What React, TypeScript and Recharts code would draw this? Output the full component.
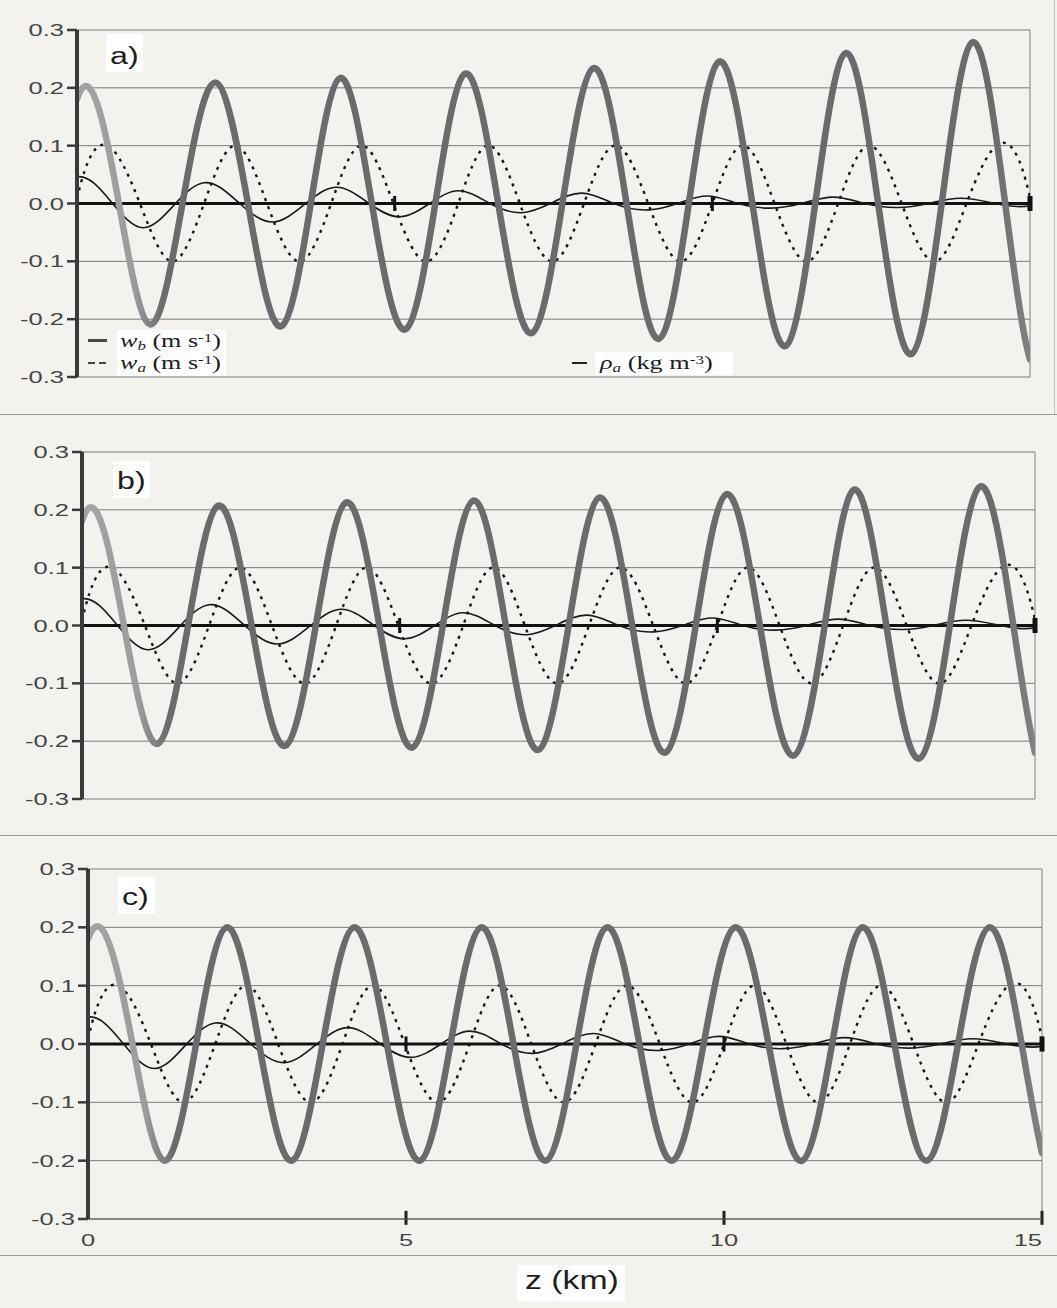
import React from "react";
import { LineChart, Line, XAxis, YAxis, CartesianGrid, ReferenceLine } from "recharts";

// ---------- data (z in km, value) ----------
const yTicks = [-0.3, -0.2, -0.1, 0, 0.1, 0.2, 0.3];
const xTicks = [0, 5, 10, 15];
const zeroLineTicks = [5, 10, 15];

// w_a (dotted) — same in every panel
const waCurve: [number, number][] = [
  [0, 0.008], [0.48, 0.1], [0.99, 0], [1.5, -0.1], [2.0, 0], [2.48, 0.1], [2.99, 0], [3.52, -0.1],
  [4.0, 0], [4.46, 0.1], [4.98, 0], [5.52, -0.1], [6.0, 0], [6.45, 0.1], [6.97, 0], [7.5, -0.1],
  [7.98, 0], [8.45, 0.1], [8.99, 0], [9.52, -0.1], [10.0, 0], [10.46, 0.1], [10.98, 0], [11.5, -0.1],
  [11.98, 0], [12.45, 0.1], [12.98, 0], [13.52, -0.1], [14.0, 0], [14.47, 0.1], [15, 0.01],
];

// rho_a (thin black) — same in every panel
const rhoCurve: [number, number][] = [
  [0, 0.046], [0.56, 0], [1.04, -0.042], [1.55, 0], [2.0, 0.036], [2.56, 0], [3.08, -0.032], [3.6, 0],
  [4.07, 0.028], [4.6, 0], [5.08, -0.023], [5.55, 0], [6.0, 0.022], [6.5, 0], [7.0, -0.016], [7.45, 0],
  [7.95, 0.018], [8.45, 0], [9.0, -0.011], [9.45, 0], [9.92, 0.013], [10.4, 0], [10.92, -0.008], [11.4, 0],
  [11.9, 0.011], [12.4, 0], [12.92, -0.007], [13.4, 0], [13.9, 0.009], [14.45, 0], [15, -0.004],
];

// w_b (thick gray), panel a
const wbA: [number, number][] = [
  [0, 0.18], [0.17, 0.202], [0.66, 0], [1.15, -0.209], [1.66, 0], [2.17, 0.209], [2.69, 0], [3.22, -0.212],
  [3.68, 0], [4.14, 0.217], [4.64, 0], [5.18, -0.217], [5.64, 0], [6.1, 0.224], [6.63, 0], [7.16, -0.224],
  [7.64, 0], [8.13, 0.234], [8.65, 0], [9.16, -0.234], [9.63, 0], [10.1, 0.245], [10.63, 0], [11.16, -0.246],
  [11.62, 0], [12.1, 0.26], [12.61, 0], [13.14, -0.26], [13.61, 0], [14.1, 0.279], [14.61, 0], [15, -0.27],
];

// w_b, panel b
const wbB: [number, number][] = [
  [0, 0.18], [0.12, 0.204], [0.66, 0], [1.2, -0.204], [1.67, 0], [2.14, 0.207], [2.67, 0], [3.2, -0.208],
  [3.68, 0], [4.16, 0.213], [4.68, 0], [5.2, -0.211], [5.68, 0], [6.16, 0.216], [6.67, 0], [7.18, -0.215],
  [7.66, 0], [8.14, 0.221], [8.66, 0], [9.18, -0.22], [9.66, 0], [10.14, 0.227], [10.67, 0], [11.2, -0.225],
  [11.69, 0], [12.14, 0.234], [12.66, 0], [13.18, -0.23], [13.66, 0], [14.13, 0.24], [14.66, 0], [15, -0.22],
];

// w_b, panel c
const wbC: [number, number][] = [
  [0, 0.18], [0.19, 0.2], [0.7, 0], [1.21, -0.2], [1.7, 0], [2.18, 0.2], [2.69, 0], [3.2, -0.2],
  [3.69, 0], [4.18, 0.2], [4.7, 0], [5.22, -0.2], [5.7, 0], [6.18, 0.2], [6.69, 0], [7.2, -0.2],
  [7.68, 0], [8.16, 0.2], [8.67, 0], [9.18, -0.2], [9.68, 0], [10.17, 0.2], [10.7, 0], [11.23, -0.2],
  [11.7, 0], [12.17, 0.2], [12.68, 0], [13.19, -0.2], [13.68, 0], [14.17, 0.2], [14.68, 0], [15, -0.187],
];

const toPts = (arr: [number, number][]) => arr.map(([z, v]) => ({ z, v }));

// Smooth curve factory for Recharts' `type` prop: cubic spline parametrised by x
// (not-a-knot end conditions) drawn as bezier segments through the scaled points.
const splineX = (context: any) => {
  let xs: number[] = [];
  let ys: number[] = [];
  return {
    areaStart() {},
    areaEnd() {},
    lineStart() {
      xs = [];
      ys = [];
    },
    point(x: number, y: number) {
      xs.push(+x);
      ys.push(+y);
    },
    lineEnd() {
      const n = xs.length;
      if (!n) return;
      context.moveTo(xs[0], ys[0]);
      if (n < 4) {
        for (let i = 1; i < n; i++) context.lineTo(xs[i], ys[i]);
        return;
      }
      const h: number[] = [];
      const s: number[] = [];
      for (let i = 0; i < n - 1; i++) {
        h[i] = xs[i + 1] - xs[i] || 1e-6;
        s[i] = (ys[i + 1] - ys[i]) / h[i];
      }
      const A: number[][] = [];
      const b: number[] = [];
      for (let i = 0; i < n; i++) {
        A.push(new Array(n).fill(0));
        b.push(0);
      }
      A[0][0] = h[1];
      A[0][1] = -(h[0] + h[1]);
      A[0][2] = h[0];
      for (let i = 1; i < n - 1; i++) {
        A[i][i - 1] = h[i - 1];
        A[i][i] = 2 * (h[i - 1] + h[i]);
        A[i][i + 1] = h[i];
        b[i] = 6 * (s[i] - s[i - 1]);
      }
      A[n - 1][n - 3] = h[n - 2];
      A[n - 1][n - 2] = -(h[n - 3] + h[n - 2]);
      A[n - 1][n - 1] = h[n - 3];
      // Gaussian elimination with partial pivoting
      for (let c = 0; c < n; c++) {
        let p = c;
        for (let r = c + 1; r < n; r++) if (Math.abs(A[r][c]) > Math.abs(A[p][c])) p = r;
        [A[c], A[p]] = [A[p], A[c]];
        [b[c], b[p]] = [b[p], b[c]];
        const piv = A[c][c] || 1e-12;
        for (let r = c + 1; r < n; r++) {
          const f = A[r][c] / piv;
          if (!f) continue;
          for (let k = c; k < n; k++) A[r][k] -= f * A[c][k];
          b[r] -= f * b[c];
        }
      }
      const M: number[] = new Array(n).fill(0);
      for (let r = n - 1; r >= 0; r--) {
        let acc = b[r];
        for (let k = r + 1; k < n; k++) acc -= A[r][k] * M[k];
        M[r] = acc / (A[r][r] || 1e-12);
      }
      const d: number[] = [];
      for (let i = 0; i < n - 1; i++) d[i] = s[i] - (h[i] * (2 * M[i] + M[i + 1])) / 6;
      d[n - 1] = s[n - 2] + (h[n - 2] * (M[n - 2] + 2 * M[n - 1])) / 6;
      for (let i = 0; i < n - 1; i++) {
        context.bezierCurveTo(
          xs[i] + h[i] / 3,
          ys[i] + (d[i] * h[i]) / 3,
          xs[i + 1] - h[i] / 3,
          ys[i + 1] - (d[i + 1] * h[i]) / 3,
          xs[i + 1],
          ys[i + 1]
        );
      }
    },
  };
};

const SANS = "'Liberation Sans', Arial, Helvetica, sans-serif";
const SERIF = "'Liberation Serif', 'Times New Roman', serif";
const PAPER = "#f3f2ee";

const YTick = (props: any) => {
  const { x, y, payload } = props;
  return (
    <g transform={`translate(${x},${y})`}>
      <text x={0} y={0} dy="0.36em" textAnchor="end" transform="scale(1.5,1)" fill="#454545" fontSize={17} fontFamily={SANS}>
        {Number(payload.value).toFixed(1)}
      </text>
    </g>
  );
};

const XTick = (props: any) => {
  const { x, y, payload } = props;
  const anchor = payload.value === 15 ? "end" : "middle";
  return (
    <g transform={`translate(${x},${y})`}>
      <text x={0} y={0} dy="0.71em" textAnchor={anchor} transform="scale(1.5,1)" fill="#454545" fontSize={17} fontFamily={SANS}>
        {payload.value}
      </text>
    </g>
  );
};

type PanelProps = {
  wb: [number, number][];
  top: number;
  height: number;
  margin: { top: number; right: number; bottom: number; left: number };
  yWidth: number;
  gradId: string;
  showX?: boolean;
};

function Panel({ wb, top, height, margin, yWidth, gradId, showX }: PanelProps) {
  return (
    <div style={{ position: "absolute", left: 0, top }}>
      <LineChart width={1057} height={height} margin={margin}>
        <defs>
          <linearGradient id={gradId} x1="0" y1="0" x2="1" y2="0">
            <stop offset="0%" stopColor="#a4a4a4" />
            <stop offset="6%" stopColor="#9c9c9c" />
            <stop offset="9%" stopColor="#6b6b6b" />
            <stop offset="96%" stopColor="#6b6b6b" />
            <stop offset="100%" stopColor="#828282" />
          </linearGradient>
        </defs>
        <CartesianGrid vertical={false} stroke="#7a7a7a" strokeWidth={1} />
        <XAxis
          dataKey="z"
          type="number"
          domain={[0, 15]}
          ticks={xTicks}
          allowDataOverflow
          hide={!showX}
          height={showX ? 40 : 0}
          axisLine={{ stroke: "#555", strokeWidth: 1 }}
          tickLine={false}
          tickSize={0}
          tickMargin={15}
          tick={<XTick />}
          interval={0}
        />
        <YAxis
          type="number"
          domain={[-0.3, 0.3]}
          ticks={yTicks}
          width={yWidth}
          interval={0}
          axisLine={{ stroke: "#3a3a3a", strokeWidth: 4 }}
          tickLine={{ stroke: "#3a3a3a", strokeWidth: 2.5 }}
          tickSize={10}
          tickMargin={3}
          tick={<YTick />}
        />
        <ReferenceLine x={15} stroke="#808080" strokeWidth={1} />
        <ReferenceLine y={0} stroke="#111" strokeWidth={3} />
        {zeroLineTicks.map((t) => (
          <ReferenceLine
            key={`zt${t}`}
            segment={[{ x: t, y: -0.013 }, { x: t, y: 0.013 }]}
            stroke="#111"
            strokeWidth={t === 15 ? 5 : 3}
            ifOverflow="visible"
          />
        ))}
        {showX &&
          zeroLineTicks.map((t) => (
            <ReferenceLine
              key={`bt${t}`}
              segment={[{ x: t, y: -0.31 }, { x: t, y: -0.286 }]}
              stroke="#222"
              strokeWidth={3}
              ifOverflow="visible"
            />
          ))}
        <Line data={toPts(waCurve)} dataKey="v" type={splineX as any} stroke="#151515" strokeWidth={2.4} strokeDasharray="3 5.5" dot={false} activeDot={false} isAnimationActive={false} />
        <Line data={toPts(rhoCurve)} dataKey="v" type={splineX as any} stroke="#1a1a1a" strokeWidth={1.6} dot={false} activeDot={false} isAnimationActive={false} />
        <Line data={toPts(wb)} dataKey="v" type={splineX as any} stroke={`url(#${gradId})`} strokeWidth={6.5} strokeLinecap="round" dot={false} activeDot={false} isAnimationActive={false} />
      </LineChart>
    </div>
  );
}

const Box = ({ left, top, width, height }: any) => (
  <div style={{ position: "absolute", left, top, width, height, background: "#ffffff" }} />
);

const Txt = ({ left, top, fs, scale, family, children }: any) => (
  <div
    style={{
      position: "absolute",
      left,
      top,
      fontSize: fs,
      lineHeight: `${fs}px`,
      fontFamily: family,
      whiteSpace: "nowrap",
      color: "#1e1e1e",
      transform: `scaleX(${scale})`,
      transformOrigin: "0 0",
    }}
  >
    {children}
  </div>
);

const sub = { fontSize: "0.65em", verticalAlign: "-0.25em" } as React.CSSProperties;
const sup = { fontSize: "0.65em", verticalAlign: "0.45em" } as React.CSSProperties;

export default function App() {
  return (
    <div style={{ position: "absolute", left: 0, top: 0, width: 1057, height: 1308, background: PAPER, overflow: "hidden" }}>
      {/* separators */}
      <div style={{ position: "absolute", left: 0, top: 414, width: 1057, height: 1, background: "#9a9a9a" }} />
      <div style={{ position: "absolute", left: 0, top: 835, width: 1057, height: 1, background: "#9a9a9a" }} />
      <div style={{ position: "absolute", left: 0, top: 1255, width: 1057, height: 1, background: "#9a9a9a" }} />
      <div style={{ position: "absolute", left: 1054, top: 0, width: 1, height: 414, background: "#c4c4c4" }} />

      <Panel wb={wbA} top={0} height={400} margin={{ top: 30, right: 27, bottom: 23, left: 0 }} yWidth={77} gradId="gA" />
      <Panel wb={wbB} top={420} height={400} margin={{ top: 32, right: 22, bottom: 21, left: 0 }} yWidth={82} gradId="gB" />
      <Panel wb={wbC} top={840} height={440} margin={{ top: 29, right: 15, bottom: 21, left: 0 }} yWidth={88} gradId="gC" showX />

      {/* panel labels */}
      <Box left={106} top={34} width={37} height={38} />
      <Txt left={110} top={45} fs={23} scale={1.4} family={SANS}>a)</Txt>
      <Box left={113} top={461} width={37} height={37} />
      <Txt left={117} top={470} fs={23} scale={1.4} family={SANS}>b)</Txt>
      <Box left={118} top={877} width={37} height={37} />
      <Txt left={122} top={886} fs={23} scale={1.4} family={SANS}>c)</Txt>

      {/* legend */}
      <Box left={117} top={330} width={109} height={46} />
      <div style={{ position: "absolute", left: 88, top: 339, width: 19, height: 3, background: "#4a4a4a" }} />
      <div style={{ position: "absolute", left: 88, top: 362, width: 7, height: 1.5, background: "#444" }} />
      <div style={{ position: "absolute", left: 99, top: 362, width: 7, height: 1.5, background: "#444" }} />
      <Txt left={120} top={330} fs={18} scale={1.45} family={SERIF}>
        <i>w</i><span style={sub}><i>b</i></span> (m s<span style={sup}>-1</span>)
      </Txt>
      <Txt left={120} top={352} fs={18} scale={1.45} family={SERIF}>
        <i>w</i><span style={sub}><i>a</i></span> (m s<span style={sup}>-1</span>)
      </Txt>

      <Box left={595} top={352} width={138} height={23} />
      <div style={{ position: "absolute", left: 572, top: 362, width: 15, height: 2, background: "#222" }} />
      <Txt left={600} top={352} fs={18} scale={1.46} family={SERIF}>
        <i>ρ</i><span style={sub}><i>a</i></span> (kg m<span style={sup}>-3</span>)
      </Txt>

      {/* x-axis title */}
      <Box left={517} top={1265} width={108} height={36} />
      <Txt left={525} top={1267} fs={26} scale={1.3} family={SANS}>z (km)</Txt>
    </div>
  );
}
